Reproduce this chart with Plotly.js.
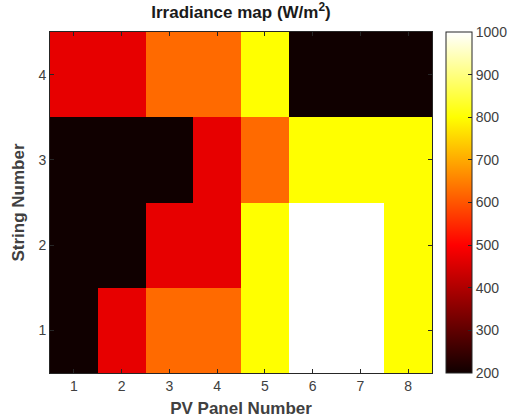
<!DOCTYPE html>
<html>
<head>
<meta charset="utf-8">
<script src="https://cdn.plot.ly/plotly-3.0.1.min.js"></script>
<style>html,body{margin:0;padding:0;background:#fff;}#chart{width:510px;height:419px;}</style>
</head>
<body>
<div id="chart"></div>
<script>
// PV panel numbers (columns) and string numbers (rows)
const panels = [1, 2, 3, 4, 5, 6, 7, 8];
const strings = [1, 2, 3, 4];
// Irradiance (W/m^2) per string, panels 1..8
const string1 = [200, 470, 625, 625, 800, 1000, 1000, 800];
const string2 = [200, 200, 470, 470, 800, 1000, 1000, 800];
const string3 = [200, 200, 200, 470, 625, 800, 800, 800];
const string4 = [470, 470, 625, 625, 800, 200, 200, 200];
const colorTicks = [200, 300, 400, 500, 600, 700, 800, 900, 1000];

const hot = [
  [0, 'rgb(16,0,0)'],
  [0.375, 'rgb(255,0,0)'],
  [0.75, 'rgb(255,255,0)'],
  [1, 'rgb(255,255,255)']
];
const txt = '#404040';
const trace = {
  type: 'heatmap',
  x: panels,
  y: strings,
  z: [string1, string2, string3, string4],
  zmin: 200, zmax: 1000,
  colorscale: hot,
  xgap: 0, ygap: 0,
  colorbar: {
    x: 1.037, xanchor: 'left', xref: 'paper',
    y: 0, yanchor: 'bottom', len: 1, lenmode: 'fraction',
    thickness: 26, thicknessmode: 'pixels',
    outlinecolor: '#262626', outlinewidth: 1,
    tickvals: colorTicks, ticktext: colorTicks.map(String),
    ticks: 'inside', ticklen: 4, tickcolor: '#262626',
    tickfont: {family: 'Liberation Sans, Arial, sans-serif', size: 14, color: txt},
    xpad: 0, ypad: 0
  }
};
const layout = {
  width: 510, height: 419,
  margin: {l: 50, r: 78, t: 32, b: 46, autoexpand: false},
  paper_bgcolor: '#fff', plot_bgcolor: '#fff',
  font: {family: 'Liberation Sans, Arial, sans-serif', color: txt},
  title: {text: '<b>Irradiance map (W/m<sup>2</sup>)</b>', x: 0.5, xref: 'paper', xanchor: 'center',
          y: 0.985, yref: 'container', yanchor: 'top',
          font: {size: 17, color: '#1a1a1a', family: 'Liberation Sans, Arial, sans-serif'}},
  xaxis: {
    title: {text: '<b>PV Panel Number</b>', font: {size: 17, color: txt}, standoff: 9},
    range: [0.5, 8.5], tickvals: panels, ticks: 'inside', ticklen: 4, tickcolor: '#262626',
    showline: true, linecolor: '#262626', linewidth: 1, mirror: 'ticks',
    showgrid: false, zeroline: false, tickfont: {size: 14, color: txt}
  },
  yaxis: {
    title: {text: '<b>String Number</b>', font: {size: 17, color: txt}, standoff: 9},
    range: [0.5, 4.5], tickvals: strings, ticks: 'inside', ticklen: 4, tickcolor: '#262626',
    showline: true, linecolor: '#262626', linewidth: 1, mirror: 'ticks',
    showgrid: false, zeroline: false, tickfont: {size: 14, color: txt}
  }
};
Plotly.newPlot('chart', [trace], layout, {staticPlot: true});
</script>
</body>
</html>
